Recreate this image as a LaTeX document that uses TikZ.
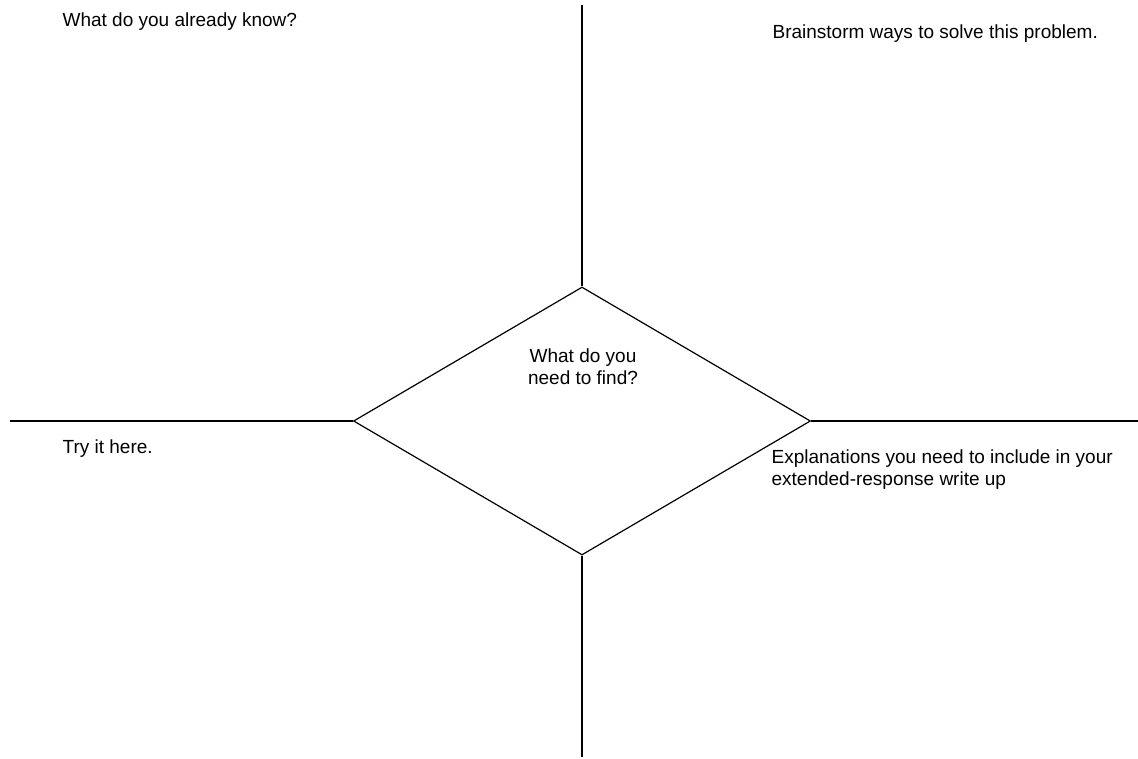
\documentclass[tikz,border=0pt]{standalone}
\usepackage{fontspec}
\setmainfont{Liberation Sans}
\usetikzlibrary{shapes.geometric}
\tikzset{%
    prompt/.style={
      inner sep=0pt,
      align=left,
      anchor=base west,
      font=\fontsize{19}{22}\selectfont
    },
    find box/.style={
      diamond,
      draw,
      inner sep=0pt,
      minimum width=457pt,
      minimum height=268pt
    },
    divider/.style={
      draw
    }
  }

\begin{document}
\begin{tikzpicture}[x=1pt, y=-1pt, line width=1.2pt]
      \useasboundingbox (0,0) rectangle (1138,758);

      \node [find box] (find) at (582,421) {};

      \coordinate (top) at (582,5);
      \coordinate (bottom) at (582,757);
      \coordinate (left) at (10,421);
      \coordinate (right) at (1138,421);

      \draw [divider] (find.north) -- (top);
      \draw [divider] (find.south) -- (bottom);
      \draw [divider] (find.west) -- (left);
      \draw [divider] (find.east) -- (right);

      % multi-line nodes sit on their last line
      \node [prompt] (know) at (62,26) {What do you already know?};
      \node [prompt] (ways) at (772,38) {Brainstorm ways to solve this problem.};
      \node [prompt, align=center, anchor=base] (need) at (583,384) {What do you\\need to find?};
      \node [prompt] (try) at (62,453) {Try it here.};
      \node [prompt] (expl) at (771,485) {Explanations you need to include in your\\extended-response write up};
    \end{tikzpicture}
\end{document}
